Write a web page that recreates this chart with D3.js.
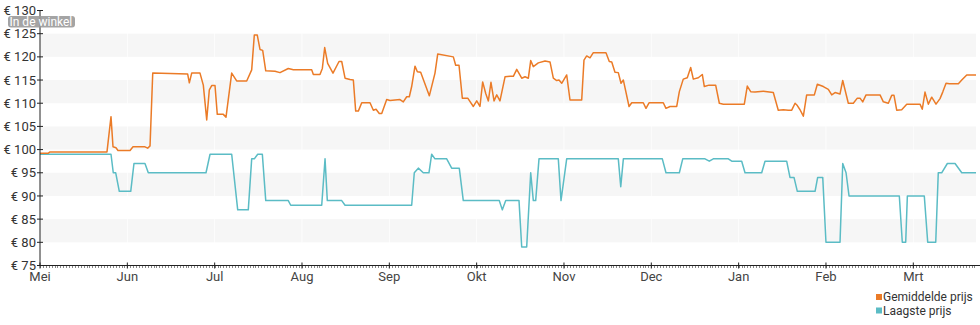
<!DOCTYPE html>
<html>
<head>
<meta charset="utf-8">
<script src="https://cdn.jsdelivr.net/npm/d3@7"></script>
<style>
  html, body { margin: 0; padding: 0; background: #fff; }
  svg { display: block; font-family: Roboto, "Noto Sans", sans-serif; }
</style>
</head>
<body>
<svg id="chart" width="980" height="325"></svg>
<script>
// Month labels; x positions are month offsets from 1 Mei (each month equal width)
const monthLabels = ["Mei", "Jun", "Jul", "Aug", "Sep", "Okt", "Nov", "Dec", "Jan", "Feb", "Mrt"];
const yTicks = [75, 80, 85, 90, 95, 100, 105, 110, 115, 120, 125, 130];
const seriesNames = ["Gemiddelde prijs", "Laagste prijs"];

// Gemiddelde prijs
const avgMonth = [0, 0.092, 0.115, 0.767, 0.813, 0.836, 0.870, 0.893, 1.031, 1.065, 1.202, 1.233, 1.260, 1.291,
  1.691, 1.710, 1.737, 1.832, 1.870, 1.909, 1.939, 1.966, 2.004, 2.030, 2.099, 2.130, 2.195, 2.252, 2.367,
  2.424, 2.454, 2.488, 2.519, 2.550, 2.585, 2.691, 2.748, 2.843, 2.901, 3.111, 3.130, 3.206, 3.233, 3.260,
  3.294, 3.355, 3.424, 3.455, 3.493, 3.550, 3.588, 3.615, 3.645, 3.684, 3.779, 3.817, 3.848, 3.885, 3.913,
  3.970, 4.008, 4.065, 4.122, 4.160, 4.199, 4.229, 4.256, 4.294, 4.321, 4.359, 4.458, 4.523, 4.554, 4.733,
  4.760, 4.798, 4.836, 4.898, 4.962, 5.001, 5.038, 5.069, 5.104, 5.134, 5.164, 5.199, 5.230, 5.267, 5.325,
  5.382, 5.420, 5.459, 5.516, 5.554, 5.592, 5.619, 5.649, 5.706, 5.783, 5.840, 5.878, 5.917, 5.943, 5.974,
  6.031, 6.069, 6.203, 6.229, 6.260, 6.298, 6.336, 6.481, 6.519, 6.547, 6.584, 6.622, 6.653, 6.680, 6.745,
  6.776, 6.908, 6.939, 6.974, 7.137, 7.168, 7.214, 7.291, 7.321, 7.366, 7.412, 7.451, 7.481, 7.538, 7.584,
  7.607, 7.661, 7.737, 7.779, 7.825, 8.065, 8.099, 8.138, 8.188, 8.283, 8.397, 8.454, 8.512, 8.569, 8.608,
  8.646, 8.672, 8.703, 8.741, 8.779, 8.867, 8.901, 8.970, 9.027, 9.066, 9.104, 9.161, 9.192, 9.256, 9.313,
  9.359, 9.390, 9.421, 9.459, 9.619, 9.657, 9.714, 9.753, 9.779, 9.810, 9.867, 9.925, 10.077, 10.103,
  10.134, 10.172, 10.211, 10.260, 10.306, 10.337, 10.375, 10.413, 10.516, 10.555, 10.612, 10.718];
const avgPrice = [99.2, 99.2, 99.5, 99.5, 107.1, 100.6, 100.4, 99.8, 99.8, 100.6, 100.6, 100.3, 100.8, 116.5,
  116.3, 114.4, 116.5, 116.5, 113.9, 106.4, 112.9, 113.8, 113.8, 107.6, 107.6, 107.0, 116.5, 114.8, 114.8,
  117.2, 124.7, 124.7, 121.6, 121.4, 117.0, 116.9, 116.6, 117.5, 117.2, 117.2, 116.2, 116.2, 117.5, 122.0,
  118.6, 116.5, 119.0, 119.0, 115.4, 115.1, 115.0, 108.3, 108.3, 110.1, 110.1, 108.5, 108.7, 107.8, 107.8,
  110.8, 110.6, 110.7, 110.8, 110.3, 111.4, 111.4, 113.6, 118.0, 116.8, 116.7, 111.6, 116.5, 120.6, 120.0,
  118.2, 118.2, 111.1, 111.1, 109.3, 110.5, 109.3, 114.6, 112.1, 110.5, 114.5, 110.5, 111.8, 110.5, 115.7,
  115.8, 115.8, 117.3, 115.4, 115.7, 115.4, 119.2, 117.9, 118.7, 119.1, 118.9, 115.4, 114.9, 115.0, 114.3,
  116.1, 110.7, 110.7, 119.3, 120.2, 119.8, 120.9, 120.9, 119.0, 118.9, 116.7, 116.6, 114.3, 115.0, 109.3,
  110.1, 110.1, 108.9, 110.1, 110.1, 108.9, 109.3, 109.3, 112.5, 115.2, 115.5, 117.7, 115.2, 115.5, 116.2,
  113.6, 113.9, 113.9, 110.0, 109.8, 109.8, 113.7, 112.5, 112.4, 112.6, 112.3, 108.5, 108.6, 108.5, 108.5,
  110.0, 109.5, 108.6, 107.2, 111.8, 111.8, 114.1, 113.6, 113.0, 111.8, 112.3, 112.0, 114.9, 110.0, 110.0,
  111.1, 111.1, 110.3, 111.8, 111.8, 110.3, 110.0, 111.7, 111.7, 108.5, 108.6, 109.8, 109.8, 108.7,
  112.4, 109.8, 111.3, 109.8, 111.0, 112.4, 114.3, 114.2, 114.2, 115.0, 116.1, 116.1];

// Laagste prijs
const lowMonth = [0, 0.813, 0.839, 0.867, 0.908, 1.039, 1.076, 1.202, 1.240, 1.901, 1.947, 2.195, 2.264, 2.385,
  2.424, 2.454, 2.493, 2.546, 2.585, 2.843, 2.871, 3.226, 3.264, 3.290, 3.455, 3.493, 4.256, 4.286, 4.332,
  4.389, 4.454, 4.485, 4.523, 4.657, 4.714, 4.801, 4.847, 5.259, 5.294, 5.333, 5.485, 5.516, 5.573, 5.619,
  5.649, 5.676, 5.714, 5.935, 5.966, 6.031, 6.622, 6.650, 6.680, 7.126, 7.168, 7.321, 7.360, 7.615, 7.664,
  7.710, 7.882, 7.921, 8.035, 8.073, 8.264, 8.302, 8.550, 8.588, 8.634, 8.672, 8.875, 8.905, 8.963, 9.000,
  9.161, 9.192, 9.230, 9.264, 9.840, 9.874, 9.913, 9.932, 10.126, 10.165, 10.257, 10.286, 10.325, 10.390,
  10.478, 10.555, 10.718];
const lowPrice = [99, 99, 95, 95, 91, 91, 97, 97, 95, 95, 99, 99, 87, 87,
  98, 98, 99, 99, 89, 89, 88, 88, 98, 89, 89, 88, 88, 95, 96,
  95, 95, 99, 98, 98, 96, 96, 89, 89, 87, 89, 89, 79, 79, 95,
  89, 89, 98, 98, 89, 98, 98, 92, 98, 98, 95, 95, 98, 98, 97.5,
  98, 98, 97.5, 97.5, 95, 95, 97.5, 97.5, 94, 94, 91, 91, 94, 94, 80,
  80, 97, 95, 90, 90, 80, 80, 90, 90, 80, 80, 95, 95, 97,
  97, 95, 95];

const colors = ["#eb7b27", "#5bbcc5"];
const plot = { left: 40, right: 976, top: 10.5, bottom: 265.5 };

const svg = d3.select("#chart");
const x = d3.scaleLinear().domain([0, 10.718]).range([plot.left, plot.right]);
const y = d3.scaleLinear().domain([75, 130]).range([plot.bottom, plot.top]);

// Alternating horizontal bands
const bands = d3.range(80, 130, 10);
svg.append("g").selectAll("rect").data(bands).join("rect")
  .attr("x", plot.left).attr("width", plot.right - plot.left)
  .attr("y", d => y(d + 5)).attr("height", d => y(d) - y(d + 5))
  .attr("fill", "#f6f6f6");

// Faint month separators within the bands
svg.append("g").selectAll("line").data(d3.range(1, monthLabels.length)).join("line")
  .attr("x1", d => x(d)).attr("x2", d => x(d))
  .attr("y1", plot.top).attr("y2", plot.bottom)
  .attr("stroke", "#ffffff").attr("stroke-width", 1).attr("opacity", 0.8);

// Lines
const line = d3.line().x(d => x(d[0])).y(d => y(d[1]));
const avgData = avgMonth.map((m, i) => [m, avgPrice[i]]);
const lowData = lowMonth.map((m, i) => [m, lowPrice[i]]);

svg.append("path").datum(lowData).attr("d", line)
  .attr("fill", "none").attr("stroke", colors[1]).attr("stroke-width", 1.5)
  .attr("stroke-linejoin", "round");
svg.append("path").datum(avgData).attr("d", line)
  .attr("fill", "none").attr("stroke", colors[0]).attr("stroke-width", 1.5)
  .attr("stroke-linejoin", "round");

// Y axis
const yAxis = svg.append("g").attr("transform", `translate(${plot.left},0)`);
yAxis.append("line").attr("x1", 0).attr("x2", 0).attr("y1", plot.top).attr("y2", plot.bottom)
  .attr("stroke", "#222").attr("stroke-width", 1);
const yt = yAxis.selectAll("g.tick").data(yTicks).join("g").attr("class", "tick")
  .attr("transform", d => `translate(0,${y(d)})`);
yt.append("line").attr("x1", -3).attr("x2", 3).attr("stroke", "#222");
yt.append("text").attr("x", -4).attr("dy", "0.35em").attr("text-anchor", "end")
  .attr("font-size", 13).attr("fill", "#333").text(d => "€ " + d);

// X axis
const xAxis = svg.append("g").attr("transform", `translate(0,${plot.bottom})`);
xAxis.append("line").attr("x1", plot.left).attr("x2", plot.right + 4)
  .attr("stroke", "#222").attr("stroke-width", 1);
// daily minor ticks
const minor = d3.range(0, 10.718, 1 / 30);
xAxis.append("g").selectAll("line").data(minor).join("line")
  .attr("x1", d => Math.round(x(d)) + 0.5).attr("x2", d => Math.round(x(d)) + 0.5)
  .attr("y1", 0.5).attr("y2", 2.5).attr("stroke", "#888").attr("stroke-width", 1);
const xt = xAxis.selectAll("g.tick").data(monthLabels).join("g").attr("class", "tick")
  .attr("transform", (d, i) => `translate(${x(i)},0)`);
xt.append("line").attr("y1", -3).attr("y2", 3).attr("stroke", "#222");
xt.append("text").attr("y", 15).attr("text-anchor", "middle")
  .attr("font-size", 13).attr("fill", "#444").text(d => d);

// Store badge
const badge = svg.append("g").attr("transform", "translate(8,16)");
badge.append("rect").attr("width", 67).attr("height", 11.5).attr("rx", 3)
  .attr("fill", "#9a9a9a").attr("opacity", 0.9);
badge.append("text").attr("x", 1.5).attr("y", 9.5).attr("font-size", 12)
  .attr("fill", "#fff").text("In de winkel");

// Legend
const legend = svg.append("g").attr("transform", "translate(876,292)");
const li = legend.selectAll("g").data(seriesNames).join("g")
  .attr("transform", (d, i) => `translate(0,${i * 13.5})`);
li.append("rect").attr("y", 2).attr("width", 6).attr("height", 6).attr("fill", (d, i) => colors[i]);
li.append("text").attr("x", 7).attr("y", 9).attr("font-size", 12).attr("fill", "#333").text(d => d);
</script>
</body>
</html>
